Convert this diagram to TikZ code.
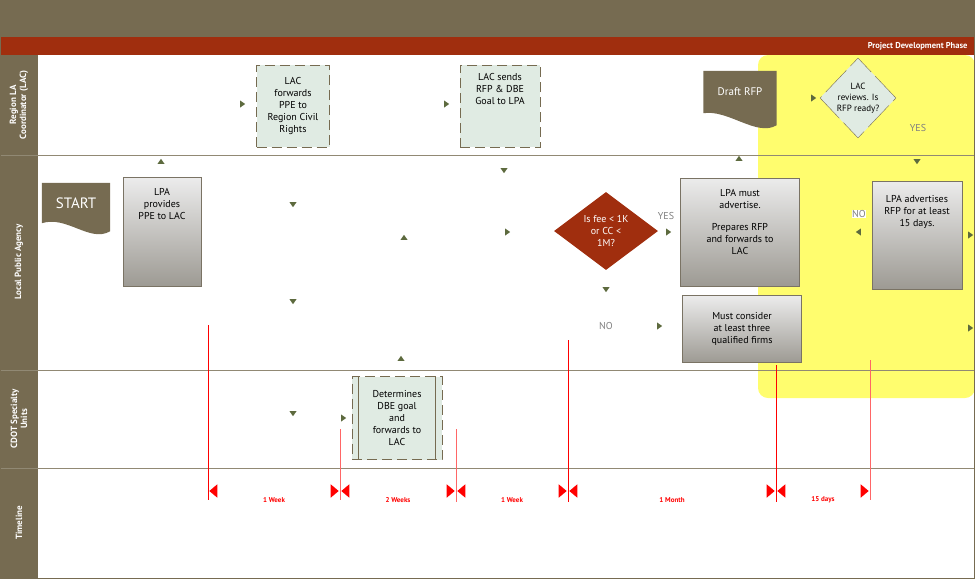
\documentclass[tikz,border=0pt]{standalone}
\usepackage{fontspec}
\setmainfont{PT Sans}
\usetikzlibrary{shapes.geometric, positioning}
\definecolor{olive}{HTML}{766B51}
\definecolor{brick}{HTML}{A02E0E}
\definecolor{paleg}{HTML}{E0EBE3}
\definecolor{tipg}{HTML}{5D6A3E}
\definecolor{hilite}{HTML}{FFFD6E}

\begin{document}
\begin{tikzpicture}[x=1pt, y=-1pt,
    lane/.style={draw=olive!80, line width=1pt},
    lanelabel/.style={rotate=90, text=white, font=\bfseries\fontsize{9}{10}\selectfont, align=center},
    box/.style={rectangle, draw=olive!60!gray, line width=1pt, top color=gray!15, bottom color=olive!35!gray!75, text centered, align=center, font=\fontsize{10}{12}\selectfont, inner sep=2pt},
    dbox/.style={rectangle, draw=olive, dashed, dash pattern=on 10pt off 5pt, line width=0.8pt, fill=paleg, align=center, font=\fontsize{10}{12}\selectfont, inner sep=2pt},
    tip/.style={isosceles triangle, isosceles triangle apex angle=70, fill=tipg, inner sep=0, minimum height=5pt, minimum width=6pt, draw=none},
    rtip/.style={isosceles triangle, isosceles triangle apex angle=80, fill=red, inner sep=0, minimum height=8pt, minimum width=9pt, draw=none},
    answer/.style={text=gray, font=\fontsize{10}{12}\selectfont},
    span/.style={text=red, font=\bfseries\fontsize{7}{8}\selectfont},
    tick/.style={red, line width=0.8pt}
]
    \useasboundingbox (0,0) rectangle (975,579);

    % Header bands
    \fill[olive] (0,0) rectangle (975,37);
    \fill[brick] (0,37) rectangle (975,55);
    \node[text=white, font=\bfseries\fontsize{8.5}{10}\selectfont, anchor=east] (phase) at (971,46) {Project Development Phase};

    % Highlighted period
    \fill[hilite, rounded corners=10pt] (758,55) -- (758,398) -- (975,398) -- (975,55) -- cycle;

    % Lane label column
    \fill[olive] (0,55) rectangle (38,579);
    \node[lanelabel] (lac) at (19,105) {Region LA\\Coordinator (LAC)};
    \node[lanelabel] (lpa) at (19,262) {Local Public Agency};
    \node[lanelabel] (cdot) at (19,419) {CDOT Specialty\\Units};
    \node[lanelabel] (time) at (19,523) {Timeline};

    % Lane separators
    \draw[lane] (0,155) -- (975,155);
    \draw[lane] (0,370) -- (975,370);
    \draw[lane] (0,468) -- (975,468);
    \draw[olive, line width=1pt] (0.5,0.5) rectangle (974.5,578.5);

    % Start and draft documents
    \node[minimum width=68pt, minimum height=40pt, inner sep=0] (start) at (76,203) {};
    \fill[olive] (start.north west) -- (start.north east) -- ([yshift=-8pt]start.south east)
        .. controls ([xshift=-20pt,yshift=-20pt]start.south east) and ([xshift=25pt,yshift=8pt]start.south west) .. (start.south west) -- cycle;
    \node[text=white, font=\fontsize{15}{16}\selectfont] at (start) {START};

    \node[minimum width=73pt, minimum height=42pt, inner sep=0] (draft) at (740,92) {};
    \fill[olive] (draft.north west) -- (draft.north east) -- ([yshift=-12pt]draft.south east)
        .. controls ([xshift=-20pt,yshift=-24pt]draft.south east) and ([xshift=25pt,yshift=4pt]draft.south west) .. (draft.south west) -- cycle;
    \node[text=white, font=\fontsize{11}{12}\selectfont] at (draft) {Draft RFP};

    % Process boxes
    \node[box, minimum width=78pt, minimum height=109pt, anchor=north] (provide) at (162,177) {LPA\\provides\\PPE to LAC\\[44pt]};
    \node[dbox, minimum width=73pt, minimum height=82pt] (fwd) at (293,106) {LAC\\forwards\\PPE to\\Region Civil\\Rights};
    \node[dbox, minimum width=80pt, minimum height=82pt] (send) at (500,106) {LAC sends\\RFP \& DBE\\Goal to LPA\\[22pt]};
    \node[dbox, minimum width=90pt, minimum height=83pt] (dbe) at (397,418) {Determines\\DBE goal\\and\\forwards to\\LAC};
    \draw[olive, line width=0.6pt] ([xshift=7pt]dbe.north west) -- ([xshift=7pt]dbe.south west)
        ([xshift=-7pt]dbe.north east) -- ([xshift=-7pt]dbe.south east);
    \node[box, minimum width=119pt, minimum height=108pt] (must) at (740,232) {LPA must\\advertise.\\[10pt]Prepares RFP\\and forwards to\\LAC\\[8pt]};
    \node[box, minimum width=119pt, minimum height=67pt] (firms) at (742,329) {Must consider\\at least three\\qualified firms};
    \node[box, minimum width=90pt, minimum height=108pt] (adv) at (917,235) {LPA advertises\\RFP for at least\\15 days.\\[36pt]};

    % Decisions
    \node[diamond, fill=brick, text=white, minimum width=104pt, minimum height=78pt, inner sep=0, align=center, font=\fontsize{10}{12}\selectfont] (fee) at (606,231) {Is fee < 1K\\or CC <\\1M?};
    \node[diamond, fill=paleg, draw=olive, dash pattern=on 30pt off 6pt, minimum width=76pt, minimum height=80pt, inner sep=0, align=center, font=\fontsize{9}{11}\selectfont] (ready) at (858,98) {LAC\\reviews. Is\\RFP ready?};

    % Answers
    \node[answer] (yes1) at (666,216) {YES};
    \node[answer] (no1) at (606,326) {NO};
    \node[answer] (yes2) at (918,128) {YES};
    \node[answer, fill=white, inner sep=0.5pt] (no2) at (859,214) {NO};

    % Arrow tips
    \foreach \x/\y/\r in {161/162/90, 242/104/0, 446/104/0, 504/170/270, 293/204/270, 404/238/90,
        507/232/0, 293/301/270, 401/359/90, 293/413/270, 343/418/0, 668/232/0, 606/289/270,
        659/326/0, 739/159/90, 813/98/0, 917/161/270, 859/232/180, 970/235/0, 970/328/0}
        \node[tip, shape border rotate=\r] at (\x,\y) {};

    % Timeline marks
    \draw[tick] (208,325) -- (208,500);
    \draw[tick, red!60] (340,429) -- (340,500);
    \draw[tick, red!60] (456,429) -- (456,502);
    \draw[tick] (568,340) -- (568,502);
    \draw[tick] (776,365) -- (776,502);
    \draw[tick, red!60] (870,360) -- (870,500);
    \foreach \a/\b/\t in {208/340/1 Week, 340/456/2 Weeks, 456/568/1 Week, 568/776/1 Month, 776/870/15 days} {
        \node[rtip, shape border rotate=180, anchor=apex] at (\a+1,491) {};
        \node[rtip, anchor=apex] at (\b-1,491) {};
        \node[span] at ({(\a+\b)/2},500) {\t};
    }
\end{tikzpicture}
\end{document}
